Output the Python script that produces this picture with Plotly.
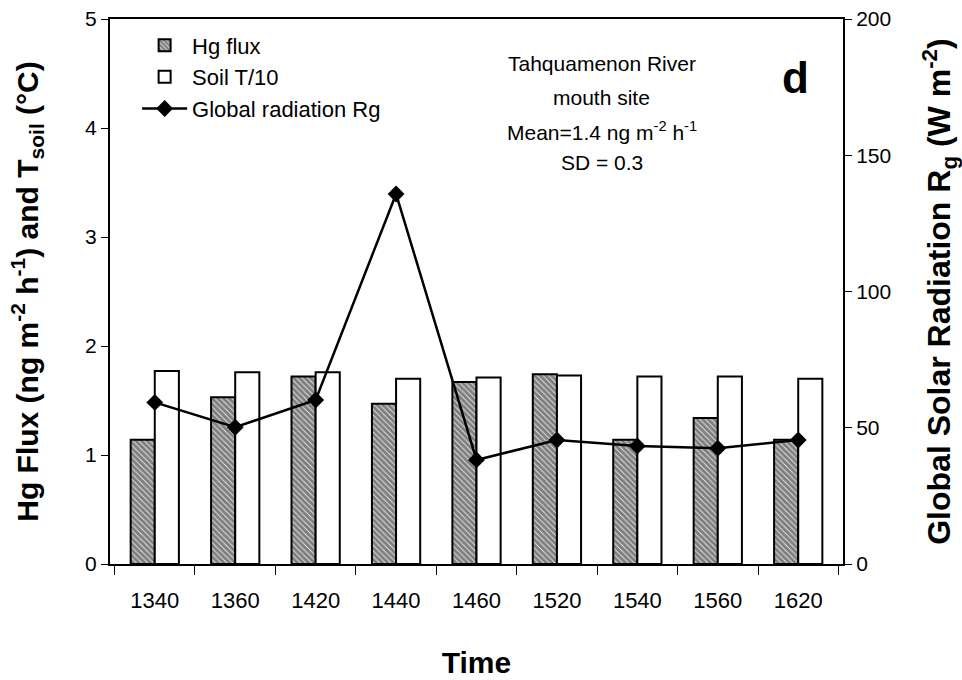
import plotly.graph_objects as go

times = ["1340", "1360", "1420", "1440", "1460", "1520", "1540", "1560", "1620"]
hg_flux = [1.14, 1.53, 1.72, 1.47, 1.67, 1.74, 1.14, 1.34, 1.14]
soil_t10 = [1.77, 1.76, 1.76, 1.70, 1.71, 1.73, 1.72, 1.72, 1.70]
rg = [59.3, 50.2, 60.2, 135.8, 38.2, 45.5, 43.3, 42.5, 45.5]

info_lines = ["Tahquamenon River", "mouth site",
              "Mean=1.4 ng m<sup>-2</sup> h<sup>-1</sup>", "SD = 0.3"]

FONT = "Arial, Liberation Sans, sans-serif"

fig = go.Figure()
fig.add_trace(go.Bar(
    x=times, y=hg_flux, name="Hg flux",
    marker=dict(color="white", line=dict(color="black", width=2),
                pattern=dict(shape="\\", fgcolor="black", bgcolor="white", size=4, solidity=0.8)),
))
fig.add_trace(go.Bar(
    x=times, y=soil_t10, name="Soil T/10",
    marker=dict(color="white", line=dict(color="black", width=2)),
))
fig.add_trace(go.Scatter(
    x=times, y=rg, name="Global radiation Rg", yaxis="y2", mode="lines+markers",
    line=dict(color="black", width=2.5),
    marker=dict(symbol="diamond", size=13, color="black"),
))

annotations = []
line_y = [0.918, 0.856, 0.795, 0.736]
for txt, yy in zip(info_lines, line_y):
    annotations.append(dict(x=0.671, y=yy, xref="paper", yref="paper", showarrow=False,
                            xanchor="center", yanchor="middle", text=txt,
                            font=dict(size=21, family=FONT)))
annotations.append(dict(x=0.935, y=0.893, xref="paper", yref="paper", showarrow=False,
                        xanchor="center", yanchor="middle", text="<b>d</b>",
                        font=dict(size=44, family=FONT)))

fig.update_layout(
    width=962, height=680,
    paper_bgcolor="white", plot_bgcolor="white",
    margin=dict(l=110, r=119, t=19, b=116),
    barmode="group", bargap=0.4, bargroupgap=0,
    font=dict(family=FONT, color="black"),
    showlegend=True,
    legend=dict(x=0.037, y=0.99, xanchor="left", yanchor="top",
                font=dict(size=22, family=FONT), bgcolor="rgba(0,0,0,0)",
                itemwidth=45, tracegroupgap=0),
    xaxis=dict(
        type="category", showline=True, linecolor="black", linewidth=2, mirror=True,
        ticks="outside", tickson="boundaries", ticklen=9, tickcolor="black",
        tickfont=dict(size=22, family=FONT), ticklabelstandoff=16,
        title=dict(text="<b>Time</b>", font=dict(size=30, family=FONT), standoff=40),
        showgrid=False, automargin=False,
    ),
    yaxis=dict(
        range=[0, 5], dtick=1, showline=True, linecolor="black", linewidth=2,
        ticks="outside", ticklen=7, tickcolor="black", showgrid=False, zeroline=False,
        tickfont=dict(size=21, family=FONT), automargin=False, ticklabeloverflow="allow",
        title=dict(text="<b>Hg Flux (ng m<sup>-2</sup> h<sup>-1</sup>) and T<sub>soil</sub> (°C)</b>",
                   font=dict(size=30, family=FONT), standoff=38),
    ),
    yaxis2=dict(
        range=[0, 200], dtick=50, overlaying="y", side="right",
        showline=True, linecolor="black", linewidth=2,
        ticks="outside", ticklen=7, tickcolor="black", showgrid=False, zeroline=False,
        tickfont=dict(size=21, family=FONT), automargin=False, ticklabeloverflow="allow",
        title=dict(text="<b>Global Solar Radiation R<sub>g</sub> (W m<sup>-2</sup>)</b>",
                   font=dict(size=32, family=FONT), standoff=38),
    ),
    annotations=annotations,
)

fig.write_html("out.html", config={"displayModeBar": False},
               post_script="document.body.style.margin='0';")
